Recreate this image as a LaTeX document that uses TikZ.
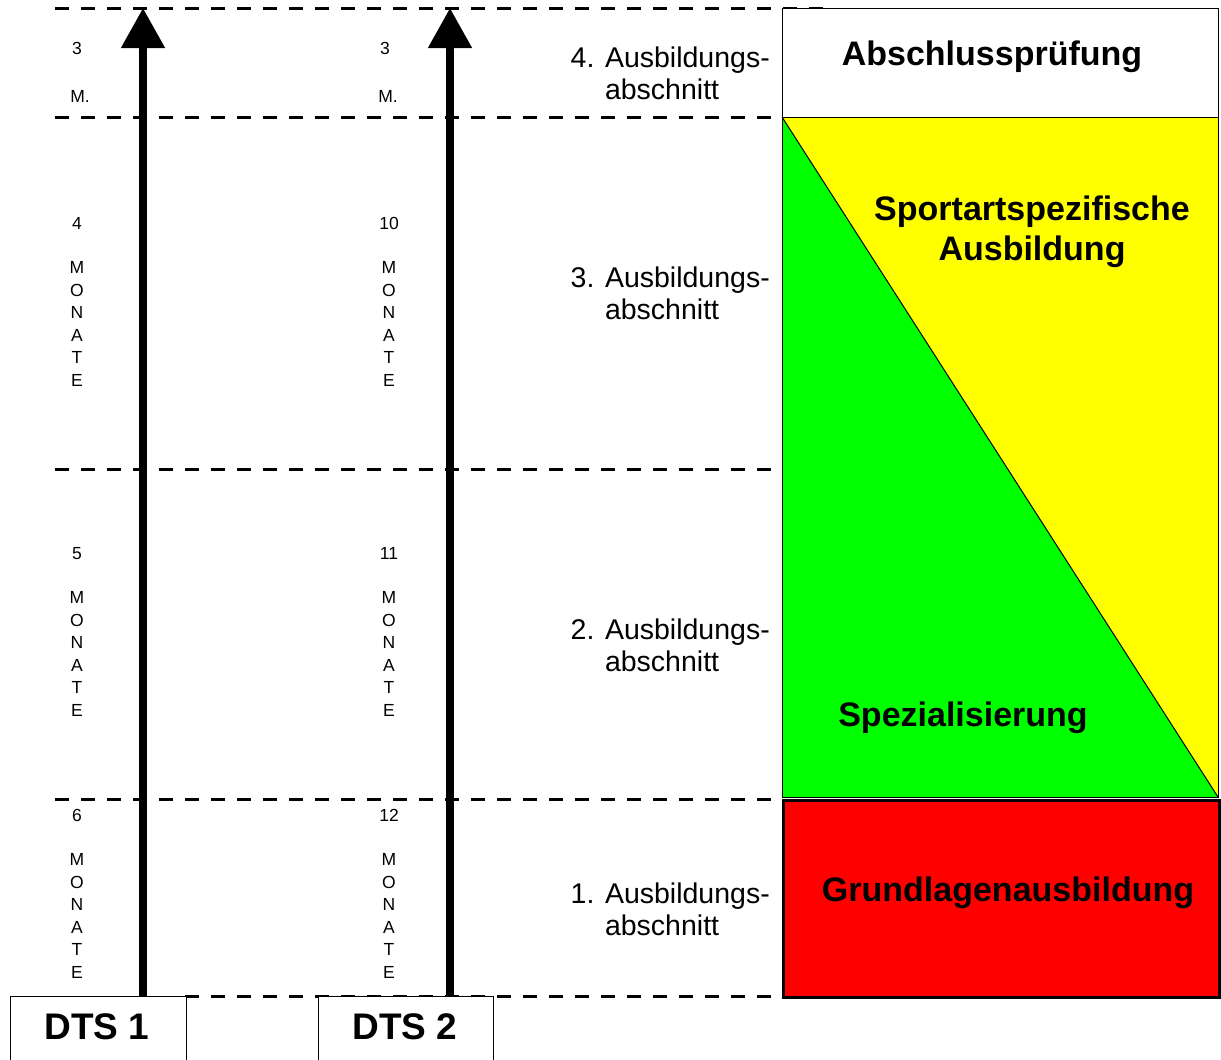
\documentclass[tikz,border=0pt]{standalone}
\usepackage{fontspec}
\setmainfont{Liberation Sans}
\usetikzlibrary{arrows.meta}
\definecolor{puryellow}{RGB}{255,255,0}
\definecolor{purgreen}{RGB}{0,255,0}
\definecolor{purred}{RGB}{255,0,0}
\begin{document}
\begin{tikzpicture}[x=1pt,y=-1pt,
  gridline/.style={line width=3pt,dash pattern=on 14pt off 12pt},
  small/.style={font=\fontsize{17.5}{22.5}\selectfont,inner sep=0pt,align=center},
  sect/.style={font=\fontsize{28.5}{32}\selectfont,inner sep=0pt,align=left,anchor=east},
  big/.style={font=\bfseries\fontsize{34}{40}\selectfont,inner sep=0pt,align=center},
  dtslabel/.style={font=\bfseries\fontsize{37}{40}\selectfont,inner sep=0pt},
  dtsbox/.style={draw,line width=1pt,fill=white},
  axis/.style={line width=8pt,-{Triangle[width=42pt,length=40pt]}}]
\useasboundingbox (0,0) rectangle (1221,1060);
% dashed grid lines
\draw[gridline] (55,8) -- (835,8);
\draw[gridline] (55,117) -- (835,117);
\draw[gridline] (55,469) -- (780,469);
\draw[gridline] (55,799) -- (780,799);
\draw[gridline] (185,996) -- (780,996);
% right column
\fill[puryellow] (782,117) rectangle (1218,797);
\fill[purgreen] (782,117) -- (1218,797) -- (782,797) -- cycle;
\draw[line width=1pt] (782,117) -- (1218,797);
\draw[line width=1pt] (782,117) rectangle (1218,797);
\node[draw,line width=1.2pt,fill=white,minimum width=436pt,minimum height=109pt,anchor=north west,inner sep=0pt] (exam) at (782,8) {};
\node[big] (examt) at (992,57) {Abschlussprüfung};
\node[draw,line width=3pt,fill=purred,minimum width=436pt,minimum height=197pt,anchor=north west,inner sep=0pt] (base) at (782,799) {};
\node[big] (baset) at (1008,893) {Grundlagenausbildung};
\node[big] (sport) at (1032,232) {Sportartspezifische\\Ausbildung};
\node[big] (spez) at (963,718) {Spezialisierung};
% section labels
\node[sect] (s4) at (770,73) {4. Ausbildungs-\\\hphantom{4. }abschnitt};
\node[sect] (s3) at (770,293) {3. Ausbildungs-\\\hphantom{3. }abschnitt};
\node[sect] (s2) at (770,645) {2. Ausbildungs-\\\hphantom{2. }abschnitt};
\node[sect] (s1) at (770,909) {1. Ausbildungs-\\\hphantom{1. }abschnitt};
% DTS boxes
\node[dtsbox,minimum width=176pt,minimum height=80pt,anchor=north west,inner sep=0pt] (d1) at (10,996) {};
\node[dtsbox,minimum width=175pt,minimum height=80pt,anchor=north west,inner sep=0pt] (d2) at (318,996) {};
\node[dtslabel] (d1t) at (97,1027) {DTS 1};
\node[dtslabel] (d2t) at (405,1027) {DTS 2};
% axes
\coordinate (a1b) at (143,996); \coordinate (a1t) at (143,8);
\coordinate (a2b) at (450,996); \coordinate (a2t) at (450,8);
\draw[axis] (a1b) -- (a1t);
\draw[axis] (a2b) -- (a2t);
% month labels
\node[small] (m1a) at (77,48) {3};
\node[small] (m1b) at (80,96) {M.};
\node[small,anchor=north] (m1c) at (77,217) {4\\[22pt]M\\O\\N\\A\\T\\E};
\node[small,anchor=north] (m1d) at (77,547) {5\\[22pt]M\\O\\N\\A\\T\\E};
\node[small,anchor=north] (m1e) at (77,809) {6\\[22pt]M\\O\\N\\A\\T\\E};
\node[small] (m2a) at (385,48) {3};
\node[small] (m2b) at (388,96) {M.};
\node[small,anchor=north] (m2c) at (389,217) {10\\[22pt]M\\O\\N\\A\\T\\E};
\node[small,anchor=north] (m2d) at (389,547) {11\\[22pt]M\\O\\N\\A\\T\\E};
\node[small,anchor=north] (m2e) at (389,809) {12\\[22pt]M\\O\\N\\A\\T\\E};
\end{tikzpicture}
\end{document}
